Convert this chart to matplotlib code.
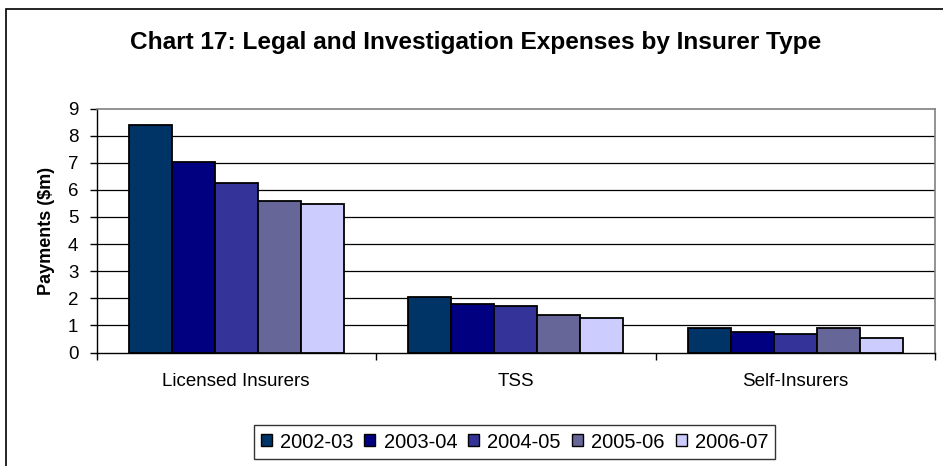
import matplotlib
matplotlib.use("Agg")
import matplotlib.pyplot as plt
from matplotlib.patches import Rectangle, Patch
import numpy as np

plt.rcParams['font.family'] = ['Liberation Sans', 'DejaVu Sans']

categories = ["Licensed Insurers", "TSS", "Self-Insurers"]
years = ["2002-03", "2003-04", "2004-05", "2005-06", "2006-07"]
values = {
    "2002-03": [8.40, 2.06, 0.89],
    "2003-04": [7.01, 1.78, 0.75],
    "2004-05": [6.24, 1.73, 0.69],
    "2005-06": [5.60, 1.37, 0.89],
    "2006-07": [5.46, 1.28, 0.54],
}
colors = ["#003366", "#000080", "#333399", "#666699", "#CCCCFF"]
yticks = list(range(0, 10))
title = "Chart 17: Legal and Investigation Expenses by Insurer Type"
ylabel = "Payments ($m)"

W, H = 943, 466
fig = plt.figure(figsize=(W / 100, H / 100), dpi=100)
left, right, top, bottom = 96.5, 935.0, 108.5, 352.5
ax = fig.add_axes([left / W, 1 - bottom / H, (right - left) / W, (bottom - top) / H])

n = len(years)
bw = 1 / (n + 1.5)
x = np.arange(len(categories))
for i, (yr, c) in enumerate(zip(years, colors)):
    xs = x - 0.5 + 0.75 * bw + (i + 0.5) * bw
    ax.bar(xs, values[yr], width=bw, color=c, edgecolor="black", linewidth=1.3, zorder=3)

ax.set_xlim(-0.5, len(categories) - 0.5)
ax.set_ylim(0, 9)
ax.set_yticks(yticks)
ax.set_yticklabels([str(t) for t in yticks], fontsize=13.5)
ax.set_xticks(x)
ax.set_xticklabels(categories, fontsize=13.5)
ax.tick_params(axis='x', length=0, pad=15)
ax.set_xticks(np.arange(len(categories) + 1) - 0.5, minor=True)
ax.tick_params(axis='x', which='minor', length=5, width=1, direction='out')
ax.tick_params(axis='y', length=5, width=1, direction='out', pad=8)
for yv in yticks[1:-1]:
    ax.axhline(yv, color="black", linewidth=0.9, zorder=1)

for s in ['top', 'right']:
    ax.spines[s].set_color('#808080')
    ax.spines[s].set_linewidth(1.2)
for s in ['left', 'bottom']:
    ax.spines[s].set_color('black')
    ax.spines[s].set_linewidth(1.0)

ax.set_ylabel(ylabel, fontsize=13, fontweight='bold', labelpad=9)

fig.text(476 / W, 1 - 42 / H, title, fontsize=17.6, fontweight='bold', ha='center', va='center')

handles = [Patch(facecolor=c, edgecolor='black', linewidth=1.0) for c in colors]
leg = fig.legend(handles, years, loc='center', bbox_to_anchor=(514.5 / W, 1 - 442 / H),
                 ncol=5, fontsize=14.5, frameon=True, fancybox=False, edgecolor='black',
                 handlelength=0.55, handleheight=0.55, handletextpad=0.4, columnspacing=0.55,
                 borderpad=0.35, borderaxespad=0)
leg.get_frame().set_linewidth(1.0)

fig.patches.append(Rectangle((6 / W, -0.1), 1.2, 1 - 9 / H + 0.1, transform=fig.transFigure,
                             fill=False, edgecolor='black', linewidth=1.2, figure=fig))

fig.savefig("out.png", dpi=100)
